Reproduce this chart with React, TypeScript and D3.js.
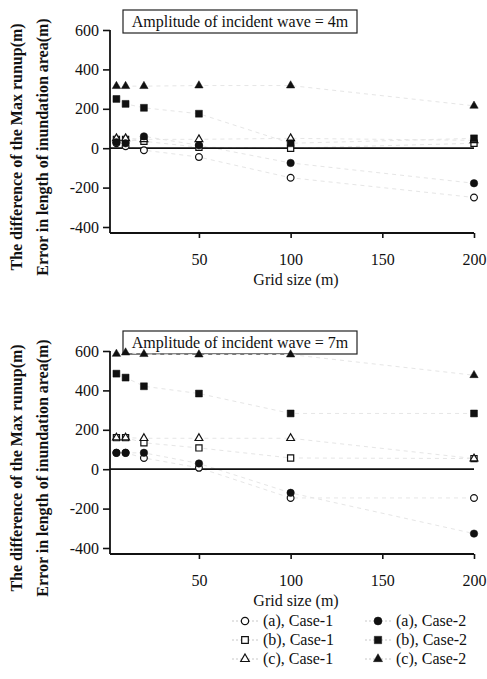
import { useEffect, useRef } from 'react';
import * as d3 from 'd3';

// grid sizes (m) used in the runs
const gridSize = [5, 10, 20, 50, 100, 200];

// amplitude 4 m
const a1_4m = [25, 10, -10, -45, -150, -250];
const b1_4m = [45, 45, 35, 5, 0, 25];
const c1_4m = [50, 50, 45, 45, 50, 40];
const a2_4m = [30, 25, 60, 15, -75, -178];
const b2_4m = [250, 225, 205, 175, 25, 50];
const c2_4m = [315, 315, 315, 318, 318, 215];

// amplitude 7 m
const a1_7m = [83, 83, 57, 7, -146, -146];
const b1_7m = [160, 160, 134, 108, 57, 54];
const c1_7m = [160, 160, 157, 157, 157, 54];
const a2_7m = [83, 83, 83, 29, -120, -327];
const b2_7m = [485, 465, 421, 384, 283, 283];
const c2_7m = [585, 592, 584, 582, 582, 477];

const yTicks = [-400, -200, 0, 200, 400, 600];
const xTicks = [50, 100, 150, 200];

const seriesNames = ['(a), Case-1', '(b), Case-1', '(c), Case-1', '(a), Case-2', '(b), Case-2', '(c), Case-2'];
const seriesShapes = [d3.symbolCircle, d3.symbolSquare, d3.symbolTriangle, d3.symbolCircle, d3.symbolSquare, d3.symbolTriangle];
const seriesFilled = [false, false, false, true, true, true];
const symbolSizes = [36, 38, 26, 44, 48, 30];

const panels = [
  { title: 'Amplitude of incident wave = 4m', top: 0, values: [a1_4m, b1_4m, c1_4m, a2_4m, b2_4m, c2_4m] },
  { title: 'Amplitude of incident wave = 7m', top: 321, values: [a1_7m, b1_7m, c1_7m, a2_7m, b2_7m, c2_7m] },
];

const FONT = '"Times New Roman", "Liberation Serif", "DejaVu Serif", serif';

const App = () => {
  const svgRef = useRef(null);

  useEffect(() => {
    const svg = d3.select(svgRef.current);
    svg.selectAll('*').remove();

    const x = d3.scaleLinear().domain([1.5, 200]).range([110, 474]);

    panels.forEach(p => {
      const g = svg.append('g').attr('transform', `translate(0,${p.top})`);
      const y = d3.scaleLinear().domain([-400, 600]).range([227, 30]);
      const axisY = 233;

      // title box
      g.append('rect')
        .attr('x', 123).attr('y', 10).attr('width', 234).attr('height', 23)
        .attr('fill', 'none').attr('stroke', '#222').attr('stroke-width', 1.2);
      g.append('text')
        .attr('x', 240).attr('y', 27)
        .attr('text-anchor', 'middle')
        .attr('font-size', 16)
        .attr('font-family', FONT)
        .attr('fill', '#111')
        .text(p.title);

      // faint connecting lines
      const line = d3.line<number>()
        .x((_, i) => x(gridSize[i]))
        .y(d => y(d));
      p.values.forEach(vals => {
        g.append('path')
          .attr('d', line(vals))
          .attr('fill', 'none')
          .attr('stroke', '#e6e6e6')
          .attr('stroke-width', 1)
          .attr('stroke-dasharray', '4,4');
      });

      // zero line
      g.append('line')
        .attr('x1', 110).attr('x2', 474)
        .attr('y1', y(0)).attr('y2', y(0))
        .attr('stroke', '#111').attr('stroke-width', 1.8);

      // axes
      const gy = g.append('g')
        .attr('transform', 'translate(110,0)')
        .call(d3.axisLeft(y).tickValues(yTicks).tickSize(7).tickPadding(4));
      const gx = g.append('g')
        .attr('transform', `translate(0,${axisY})`)
        .call(d3.axisBottom(x).tickValues(xTicks).tickSize(5).tickPadding(16));
      [gy, gx].forEach(a => {
        a.select('.domain').remove();
        a.selectAll('line').attr('stroke', '#111').attr('stroke-width', 1.6);
        a.selectAll('text')
          .attr('font-size', 16)
          .attr('font-family', FONT)
          .attr('fill', '#111');
      });
      gy.selectAll('text').text(d => (d < 0 ? '-' + Math.abs(d) : String(d)));
      g.append('line')
        .attr('x1', 110).attr('x2', 110).attr('y1', y(600)).attr('y2', axisY)
        .attr('stroke', '#111').attr('stroke-width', 1.8);
      g.append('line')
        .attr('x1', 110).attr('x2', 474).attr('y1', axisY).attr('y2', axisY)
        .attr('stroke', '#111').attr('stroke-width', 1.8);

      g.append('text')
        .attr('x', 296).attr('y', 285)
        .attr('text-anchor', 'middle')
        .attr('font-size', 16)
        .attr('font-family', FONT)
        .attr('fill', '#111')
        .text('Grid size (m)');

      // y labels
      const yl = [
        { t: 'The difference of the Max runup(m)', x: 22 },
        { t: 'Error in length of inundation area(m)', x: 48 },
      ];
      yl.forEach(l => {
        g.append('text')
          .attr('transform', `translate(${l.x},147) rotate(-90)`)
          .attr('text-anchor', 'middle')
          .attr('font-size', 16)
          .attr('font-weight', 'bold')
          .attr('font-family', FONT)
          .attr('fill', '#111')
          .text(l.t);
      });

      // markers
      p.values.forEach((vals, si) => {
        const sym = d3.symbol(seriesShapes[si], symbolSizes[si]);
        g.selectAll(null)
          .data(vals)
          .enter().append('path')
          .attr('d', sym)
          .attr('transform', (d, i) => `translate(${x(gridSize[i])},${y(d)})`)
          .attr('fill', seriesFilled[si] ? '#111' : '#fff')
          .attr('stroke', '#111')
          .attr('stroke-width', seriesFilled[si] ? 0.5 : 1.2);
      });
    });

    // legend
    const lg = svg.append('g');
    seriesNames.forEach((name, i) => {
      const col = i < 3 ? 0 : 1;
      const row = i % 3;
      const mx = col === 0 ? 245 : 378;
      const my = 621 + row * 19;
      lg.append('line')
        .attr('x1', mx - 13).attr('x2', mx + 13).attr('y1', my).attr('y2', my)
        .attr('stroke', '#c8c8c8').attr('stroke-dasharray', '2,2');
      lg.append('path')
        .attr('d', d3.symbol(seriesShapes[i], symbolSizes[i] + 6)())
        .attr('transform', `translate(${mx},${my})`)
        .attr('fill', seriesFilled[i] ? '#111' : '#fff')
        .attr('stroke', '#111')
        .attr('stroke-width', seriesFilled[i] ? 0.5 : 1.2);
      lg.append('text')
        .attr('x', mx + 18).attr('y', my + 5)
        .attr('font-size', 16)
        .attr('font-family', FONT)
        .attr('fill', '#111')
        .text(name);
    });
  }, []);

  return (
    <div>
      <svg ref={svgRef} width={487} height={679} style={{ position: 'absolute', left: 0, top: 0, background: '#fff' }}></svg>
    </div>
  );
};

export default App;
